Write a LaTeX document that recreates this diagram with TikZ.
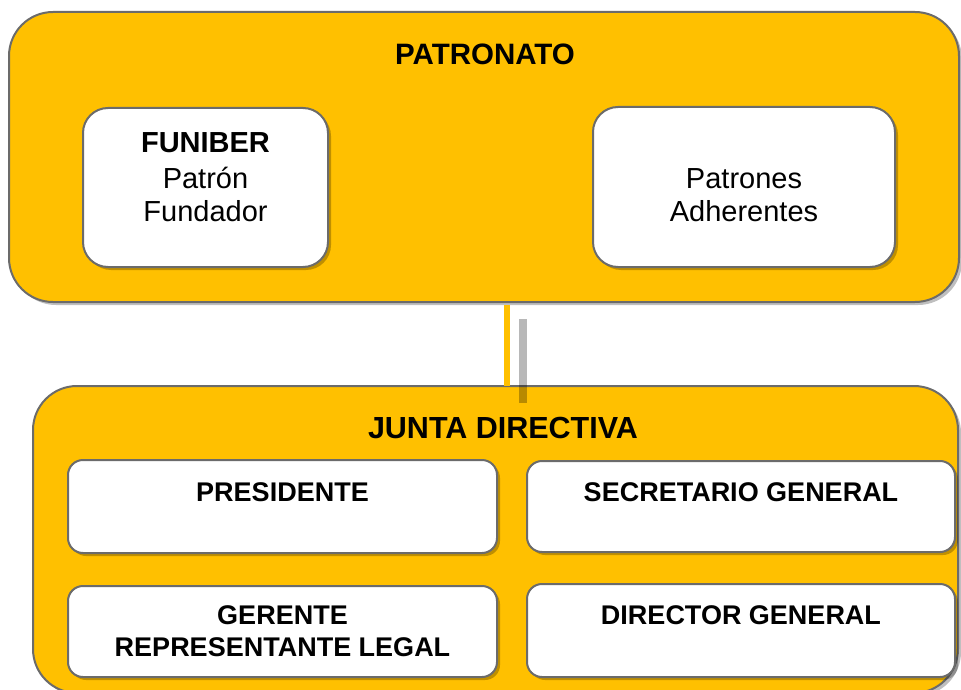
\documentclass[tikz,border=0pt]{standalone}
\usepackage{fontspec}
\setmainfont{Liberation Sans}
\definecolor{gold}{HTML}{FFC000}
\definecolor{edge}{HTML}{6B6B6B}
\tikzset{
  outerbox/.style={draw=edge, line width=2pt, fill=gold, rounded corners=44pt, inner sep=0pt},
  innerbox/.style={draw=edge, line width=2pt, fill=white, inner sep=0pt},
  shade/.style={fill=black, opacity=0.25},
  ttl/.style={font=\fontsize{29.5}{34}\selectfont\bfseries, inner sep=0pt},
  btxt/.style={font=\fontsize{27}{32}\selectfont\bfseries, inner sep=0pt, align=center},
  rtxt/.style={font=\fontsize{29}{34}\selectfont, inner sep=0pt, anchor=base},
}
\begin{document}
\begin{tikzpicture}[x=1pt,y=-1pt]
\useasboundingbox (0,0) rectangle (961,690);
\clip (0,0) rectangle (961,690);
% shadows of outer boxes
\fill[shade, rounded corners=44pt] (12,15) rectangle (962,305);
\fill[shade, rounded corners=44pt] (36,389) rectangle (961,696);
% outer boxes
\node[outerbox, minimum width=950pt, minimum height=290pt] (patronato) at (484,157) {};
\node[ttl] (tpat) at (485,54) {PATRONATO};
\node[outerbox, minimum width=925pt, minimum height=307pt] (junta) at (495.5,539.5) {};
\node[ttl, font=\fontsize{30.5}{34}\selectfont\bfseries] (tjun) at (503,428) {JUNTA DIRECTIVA};
% connector and its shadow
\draw[gold, line width=6pt] (patronato.south -| 507,0) ++(0,2) -- ([yshift=-1pt]junta.north -| 507,0);
\fill[black, opacity=0.28] (519,319) rectangle (527,403);
% inner boxes of patronato (shadows first)
\fill[shade, rounded corners=25pt] (86,111) rectangle (331,270);
\fill[shade, rounded corners=25pt] (596,110) rectangle (898,270);
\node[innerbox, rounded corners=25pt, minimum width=245pt, minimum height=159pt] (funiber) at (205.5,187.5) {};
\node[innerbox, rounded corners=25pt, minimum width=302pt, minimum height=160pt] (patrones) at (744,187) {};
\node[inner sep=0pt, anchor=base, font=\fontsize{29}{34}\selectfont\bfseries] (f1) at (205.5,153) {FUNIBER};
\node[rtxt] (f2) at (205.5,188) {Patrón};
\node[rtxt] (f3) at (205.5,221) {Fundador};
\node[rtxt] (p1) at (744,188) {Patrones};
\node[rtxt] (p2) at (744,221) {Adherentes};
% inner boxes of junta
\fill[shade, rounded corners=15pt] (71,463) rectangle (500,556);
\fill[shade, rounded corners=15pt] (530,464) rectangle (958,555);
\fill[shade, rounded corners=15pt] (71,589) rectangle (500,680);
\fill[shade, rounded corners=15pt] (530,587) rectangle (958,680);
\node[innerbox, rounded corners=15pt, minimum width=429pt, minimum height=93pt] (pres) at (282.5,506.5) {};
\node[innerbox, rounded corners=15pt, minimum width=428pt, minimum height=91pt] (secr) at (741,506.5) {};
\node[innerbox, rounded corners=15pt, minimum width=429pt, minimum height=91pt] (ger) at (282.5,631.5) {};
\node[innerbox, rounded corners=15pt, minimum width=428pt, minimum height=93pt] (dir) at (741,630.5) {};
\node[btxt, anchor=base] (tpres) at (282.5,501) {PRESIDENTE};
\node[btxt, anchor=base] (tsecr) at (741,501) {SECRETARIO GENERAL};
\node[btxt, anchor=base] (tger1) at (282.5,624) {GERENTE};
\node[btxt, anchor=base] (tger2) at (282.5,656) {REPRESENTANTE LEGAL};
\node[btxt, anchor=base] (tdir) at (741,624) {DIRECTOR GENERAL};
\end{tikzpicture}
\end{document}
